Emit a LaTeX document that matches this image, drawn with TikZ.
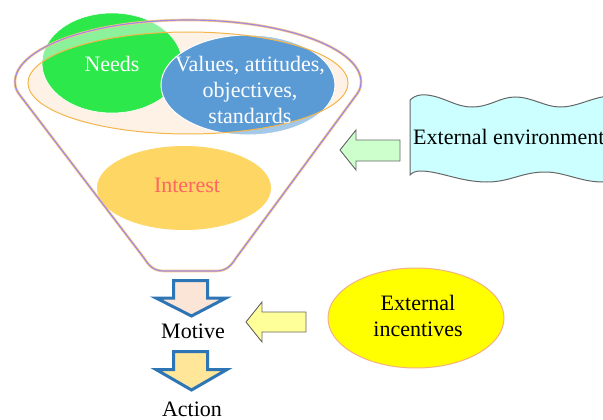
\documentclass[tikz,border=0pt]{standalone}
\usepackage{fontspec}
\setmainfont{Liberation Serif}
\newfontfamily\tnr{Liberation Serif}
\usetikzlibrary{shapes.geometric}
\definecolor{needsgreen}{HTML}{2DE84A}
\definecolor{valblue}{HTML}{5B9BD5}
\definecolor{intyellow}{HTML}{FDD663}
\definecolor{inttext}{HTML}{FF6464}
\definecolor{peach}{HTML}{FEF2E6}
\definecolor{ringorange}{HTML}{F4B64A}
\definecolor{funnelpurple}{HTML}{A488E6}
\definecolor{bannercyan}{HTML}{CCFFFF}
\definecolor{bannerline}{HTML}{666666}
\definecolor{arrowblue}{HTML}{2E75B6}
\definecolor{arrowpeach}{HTML}{FBE5D6}
\definecolor{arrowgold}{HTML}{FFE699}
\definecolor{lgreen}{HTML}{CCFFCC}
\definecolor{lyellow}{HTML}{FFFF99}
\definecolor{incyellow}{HTML}{FFFF00}
\definecolor{incline}{HTML}{F4B183}
\tikzset{
  txt/.style={font=\tnr\fontsize{22}{26}\selectfont, align=center, inner sep=0pt},
  blob/.style={ellipse, inner sep=0pt},
  downarrow/.style={draw=arrowblue, line width=3pt, line join=miter},
  sidearrow/.style={draw=#1, line width=0.9pt, line join=miter},
}
\def\funnelpath{(15,82) .. controls (15,47.8) and (92.5,20) .. (188,20)
  .. controls (283.5,20) and (361,47.8) .. (361,82)
  .. controls (361,88) and (359,91) .. (357,94) -- (236,258)
  .. controls (231,266) and (226,271) .. (216,271) -- (164,271)
  .. controls (154,271) and (149,266) .. (144,258) -- (19,94)
  .. controls (17,91) and (15,88) .. (15,82) -- cycle}
\begin{document}
\begin{tikzpicture}[x=1pt,y=-1pt]
\useasboundingbox (0,0) rectangle (603,420);
\begin{scope}
\clip (0,0) rectangle (603,420);
% funnel body
\fill[white] \funnelpath;
\fill[peach] (188,83) ellipse [x radius=160pt, y radius=51pt];
% needs and values
\node[blob, fill=needsgreen, draw=white, line width=0.6pt, minimum width=140pt, minimum height=100pt] (needsE) at (112,63) {};
\node[blob, fill=valblue, draw=white, line width=1pt, minimum width=174pt, minimum height=100pt] (valuesE) at (248,85) {};
% translucent band of the funnel rim
\fill[white, fill opacity=0.45, even odd rule] \funnelpath (188,83) ellipse [x radius=160pt, y radius=51pt];
% interest
\node[blob, fill=intyellow, minimum width=174pt, minimum height=84pt] (interestE) at (184,188) {};
% outlines
\draw[ringorange, line width=1pt] (188,83) ellipse [x radius=160pt, y radius=51pt];
\draw[ringorange!70, line width=2.6pt] \funnelpath;
\draw[funnelpurple, line width=1.2pt] \funnelpath;
% texts
\node[txt, text=white] (needs) at (112,64) {Needs};
\node[txt, text=white] (values) at (250,90) {Values, attitudes,\\objectives,\\standards};
\node[txt, text=inttext] (interest) at (187,185) {Interest};

% banner
\fill[bannercyan] (410,100) .. controls (414,96) and (420,94) .. (427,95)
  .. controls (445,97) and (455,107) .. (472,107)
  .. controls (490,107) and (500,97) .. (515,97)
  .. controls (532,97) and (545,107) .. (560,107)
  .. controls (578,107) and (592,97) .. (610,96)
  -- (610,182)
  .. controls (607,182) .. (603,182)
  .. controls (580,182) and (565,172) .. (545,172)
  .. controls (522,172) and (510,182) .. (487,182)
  .. controls (460,182) and (440,171) .. (420,171)
  .. controls (415,171) and (412,173) .. (410,175) -- cycle;
\draw[bannerline, line width=1pt] (610,96) .. controls (592,97) and (578,107) .. (560,107)
  .. controls (545,107) and (532,97) .. (515,97)
  .. controls (500,97) and (490,107) .. (472,107)
  .. controls (455,107) and (445,97) .. (427,95)
  .. controls (420,94) and (414,96) .. (410,100)
  -- (410,175)
  .. controls (412,173) and (415,171) .. (420,171)
  .. controls (440,171) and (460,182) .. (487,182)
  .. controls (510,182) and (522,172) .. (545,172)
  .. controls (565,172) and (580,182) .. (603,182)
  .. controls (607,182) .. (610,182);
\node[txt, anchor=west] (extenv) at (413,137) {External environment};
\end{scope}

% green arrow
\filldraw[fill=lgreen, sidearrow=bannerline] (400,140) -- (356,140) -- (356,130) -- (340,150) -- (356,170) -- (356,161) -- (400,161) -- cycle;

% down arrows
\filldraw[fill=arrowpeach, downarrow] (173.5,280.5) -- (207.5,280.5) -- (207.5,298) -- (226,298) -- (191.5,316) -- (156,298) -- (173.5,298) -- cycle;
\filldraw[fill=arrowgold, downarrow] (173.5,351.5) -- (207.5,351.5) -- (207.5,369.5) -- (227,369.5) -- (191.5,390) -- (156,369.5) -- (173.5,369.5) -- cycle;
\node[txt] (motive) at (193,331) {Motive};
\node[txt] (action) at (192,409) {Action};

% yellow arrow
\filldraw[fill=lyellow, sidearrow=bannerline] (306,312) -- (262,312) -- (262,302) -- (246,322) -- (262,342) -- (262,332) -- (306,332) -- cycle;

% external incentives
\node[blob, fill=incyellow, draw=incline, line width=1pt, minimum width=176pt, minimum height=100pt] (incE) at (416,318) {};
\node[txt] (inc) at (418,316) {External\\incentives};
\end{tikzpicture}
\end{document}
